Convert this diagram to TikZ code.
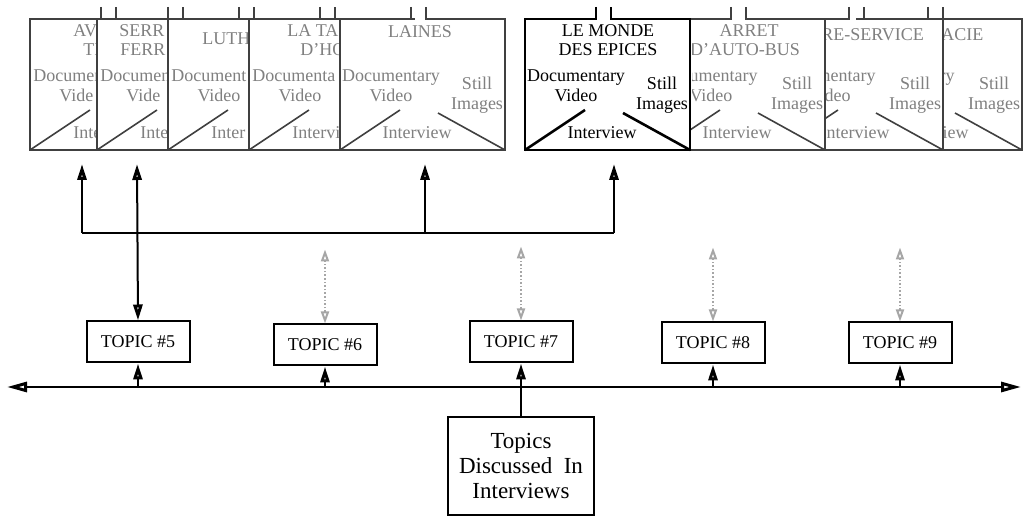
\documentclass[tikz,border=0pt]{standalone}
\usepackage{fontspec}
\setmainfont{Liberation Serif}
\usetikzlibrary{arrows.meta,positioning}
\colorlet{faded}{black!50}
\colorlet{cardline}{black!75}

% one shop card: #1 left edge, #2/#3 visible strip, #4 frame style, #5 its texts
\newcommand{\shopcard}[5]{%
  \fill[white] (#1,20) rectangle (#1+165,150);
  \draw[#4] (#1+71,7) -- (#1+71,19) -- (#1,19) -- (#1,150) -- (#1+165,150) -- (#1+165,19) -- (#1+86,19) -- (#1+86,7);
  \draw[#4] (#1,150) -- (#1+60,110) (#1+98,113) -- (#1+165,150);
  \begin{scope}
    \clip (#2,0) rectangle (#3,152);
    #5
  \end{scope}}

\begin{document}
\begin{tikzpicture}[x=0.5pt,y=-0.5pt,
  >={Triangle[open,length=8pt,width=4.5pt,line width=1.5pt]},
  cardtext/.style={font=\fontsize{9}{10}\selectfont,inner sep=0pt},
  gt/.style={cardtext,faded},
  greycard/.style={cardline,line width=0.8pt},
  boldcard/.style={black,line width=1.3pt},
  topicbox/.style={draw,line width=1pt,minimum width=51.5pt,minimum height=20.5pt,inner sep=1pt,font=\fontsize{9}{10}\selectfont},
  link/.style={line width=1pt},
  ghost/.style={black!35,line width=0.8pt,densely dotted,{Triangle[open,length=6pt,width=4pt,line width=1pt]}-{Triangle[open,length=6pt,width=4pt,line width=1pt]}}]
\useasboundingbox (0,0) rectangle (1023,517);

% left stack of cards, each one lying over the one before
\shopcard{30}{28}{97}{greycard}{
  \node[gt,anchor=base west] at (73,37) {AV};
  \node[gt,anchor=base west] at (83,56) {TI};
  \node[gt,anchor=base west] at (33,82) {Documen};
  \node[gt,anchor=base west] at (59,102) {Vide};
  \node[gt,anchor=base west] at (73,139) {Inte};}
\shopcard{97}{95}{168}{greycard}{
  \node[gt,anchor=base west] at (119,37) {SERR};
  \node[gt,anchor=base west] at (120,56) {FERR};
  \node[gt,anchor=base west] at (100,82) {Documen};
  \node[gt,anchor=base west] at (126,102) {Vide};
  \node[gt,anchor=base west] at (140,139) {Inte};}
\shopcard{168}{166}{249}{greycard}{
  \node[gt,anchor=base west] at (202,45) {LUTH};
  \node[gt,anchor=base west] at (171,82) {Document};
  \node[gt,anchor=base] at (219,102) {Video};
  \node[gt,anchor=base west] at (211,139) {Inter};}
\shopcard{249}{247}{340}{greycard}{
  \node[gt,anchor=base west] at (287,37) {LA TA};
  \node[gt,anchor=base west] at (300,56) {D'HO};
  \node[gt,anchor=base west] at (252,82) {Documenta};
  \node[gt,anchor=base] at (300,102) {Video};
  \node[gt,anchor=base west] at (292,139) {Intervi};}
\shopcard{340}{338}{507}{greycard}{
  \node[gt,anchor=base] at (420,38) {LAINES};
  \node[gt,anchor=base] at (391,82) {Documentary};
  \node[gt,anchor=base] at (391,102) {Video};
  \node[gt,anchor=base] at (477,90) {Still};
  \node[gt,anchor=base] at (477,110) {Images};
  \node[gt,anchor=base] at (417,139) {Interview};}

% right stack, the front card last
\shopcard{857}{943}{1023}{greycard}{
  \node[gt,anchor=base west] at (925,41) {MACIE};
  \node[gt,anchor=base east] at (955,82) {ry};
  \node[gt,anchor=base] at (994,90) {Still};
  \node[gt,anchor=base] at (994,110) {Images};
  \node[gt,anchor=base east] at (969,139) {iew};}
\shopcard{778}{825}{945}{greycard}{
  \node[gt,anchor=base west] at (821,41) {RE-SERVICE};
  \node[gt,anchor=base east] at (876,82) {mentary};
  \node[gt,anchor=base east] at (851,102) {deo};
  \node[gt,anchor=base] at (915,90) {Still};
  \node[gt,anchor=base] at (915,110) {Images};
  \node[gt,anchor=base east] at (890,139) {nterview};}
\shopcard{660}{692}{827}{greycard}{
  \node[gt,anchor=base] at (749,37) {ARRET};
  \node[gt,anchor=base] at (745,56) {D'AUTO-BUS};
  \node[gt,anchor=base east] at (758,82) {umentary};
  \node[gt,anchor=base] at (711,102) {Video};
  \node[gt,anchor=base] at (797,90) {Still};
  \node[gt,anchor=base] at (797,110) {Images};
  \node[gt,anchor=base] at (737,139) {Interview};}
\shopcard{525}{523}{694}{boldcard}{
  \node[cardtext,anchor=base] at (608,37) {LE MONDE};
  \node[cardtext,anchor=base] at (608,56) {DES EPICES};
  \node[cardtext,anchor=base] at (576,82) {Documentary};
  \node[cardtext,anchor=base] at (576,102) {Video};
  \node[cardtext,anchor=base] at (662,90) {Still};
  \node[cardtext,anchor=base] at (662,110) {Images};
  \node[cardtext,anchor=base] at (602,139) {Interview};}

% where the links meet the cards
\coordinate (k1) at (82,164);
\coordinate (k2) at (137,164);
\coordinate (k5) at (425,164);
\coordinate (k6) at (614,164);
\coordinate (busL) at (82,233);
\coordinate (busR) at (614,233);

% topics
\node[topicbox] (t5) at (138,342) {TOPIC \#5};
\node[topicbox] (t6) at (325,345) {TOPIC \#6};
\node[topicbox] (t7) at (521,342) {TOPIC \#7};
\node[topicbox] (t8) at (713,343) {TOPIC \#8};
\node[topicbox] (t9) at (900,343) {TOPIC \#9};
\node[draw,line width=1pt,minimum width=73pt,minimum height=49pt,align=center,
  font=\fontsize{11.5}{12.5}\selectfont] (topics) at (521,466) {Topics\\Discussed~~In\\Interviews};

% bus to the cards of topic 5
\draw[link] (busL) -- (busR);
\draw[link,->] (busL) -- (k1);
\draw[link,->] (busR) -- (k6);
\draw[link,->] (k5 |- busL) -- (k5);
\draw[link,<->] (k2) -- (t5.north);

% timeline of topics
\coordinate (axL) at (7,387);
\coordinate (axR) at (1021,387);
\draw[link,{Triangle[open,length=10pt,width=5pt,line width=1.5pt]}-{Triangle[open,length=10pt,width=5pt,line width=1.5pt]}] (axL) -- (axR);
\foreach \t in {t5,t6,t7,t8,t9}
  \draw[link,->] (\t.south |- axL) -- (\t.south);
\draw[link] (topics.north) -- (topics.north |- axL);

% links not yet followed
\foreach \t in {t6,t7,t8,t9}
  \draw[ghost] (\t.north) -- ++(0,-74);
\end{tikzpicture}
\end{document}
